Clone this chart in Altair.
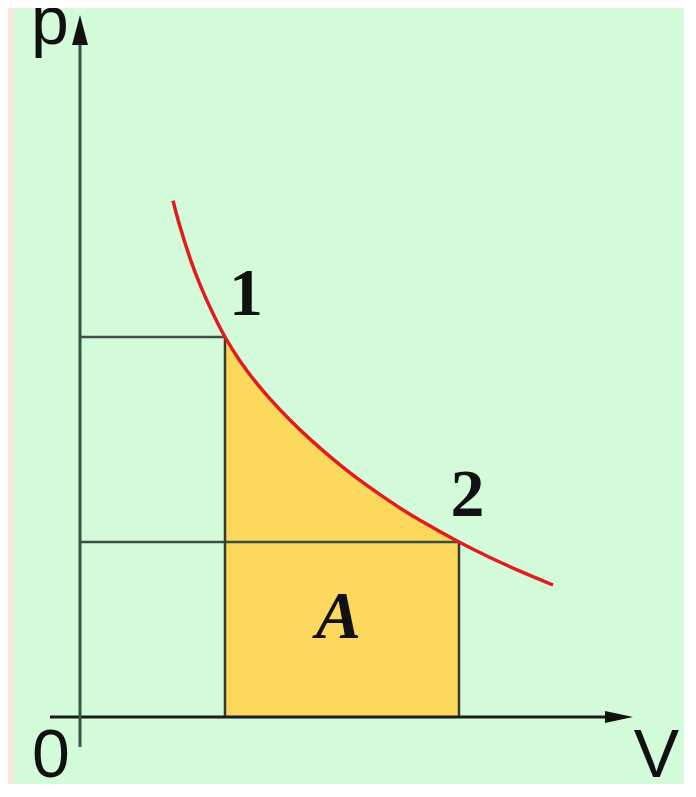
import altair as alt
import pandas as pd

# ---- data (V, p in arbitrary units) ----
curve_V = [0.93, 1.00, 1.10, 1.20, 1.32, 1.45, 1.60, 1.75, 1.90, 2.10, 2.30, 2.50, 2.75, 3.10, 3.40, 3.79, 4.10, 4.40, 4.73]
curve_p = [5.163, 4.904, 4.589, 4.324, 4.054, 3.800, 3.561, 3.358, 3.181, 2.970, 2.779, 2.604, 2.404, 2.156, 1.967, 1.750, 1.595, 1.459, 1.320]

state_names = ["1", "2"]
state_V = [1.45, 3.79]
state_p = [3.80, 1.75]

axis_V_ext = [-0.30, 5.25]
axis_p_ext = [-0.30, 6.72]

labels = ["p", "0", "V"]
label_V = [-0.30, -0.29, 5.765]
label_p = [6.73, -0.60, -0.60]

num_labels = ["1", "2"]
num_V = [1.66, 3.875]
num_p = [4.02, 2.01]

area_label = ["A"]
area_label_V = [2.585]
area_label_p = [0.79]

# ---- tables ----
curve = pd.DataFrame({"V": curve_V, "p": curve_p})
area = curve[(curve.V >= state_V[0]) & (curve.V <= state_V[1])].copy()
area["p0"] = 0.0

xs = alt.Scale(domain=[-0.67, 6.04], nice=False, zero=False)
ys = alt.Scale(domain=[-0.67, 7.09], nice=False, zero=False)
X = lambda f: alt.X(f, type="quantitative", scale=xs, axis=None)
Y = lambda f: alt.Y(f, type="quantitative", scale=ys, axis=None)

fill = alt.Chart(area).mark_area(color="#fcd95c", interpolate="natural", opacity=1).encode(
    x=X("V"), y=Y("p"), y2="p0"
)

hlines = pd.DataFrame({"V0": [0.0, 0.0], "V1": state_V, "p": state_p})
guide_h = alt.Chart(hlines).mark_rule(color="#3d4e45", strokeWidth=2.5).encode(
    x=X("V0"), x2="V1", y=Y("p")
)

vlines = pd.DataFrame({"V": state_V, "p0": [0.0, 0.0], "p1": state_p})
guide_v = alt.Chart(vlines).mark_rule(color="#3a3a2a", strokeWidth=2.5).encode(
    x=X("V"), y=Y("p0"), y2="p1"
)

xaxis = alt.Chart(pd.DataFrame({"a": [axis_V_ext[0]], "b": [axis_V_ext[1]], "p": [0.0]})).mark_rule(
    color="#1c1c1c", strokeWidth=3
).encode(x=X("a"), x2="b", y=Y("p"))

yaxis = alt.Chart(pd.DataFrame({"a": [axis_p_ext[0]], "b": [axis_p_ext[1]], "V": [0.0]})).mark_rule(
    color="#2f5646", strokeWidth=3
).encode(y=Y("a"), y2="b", x=X("V"))

line = alt.Chart(curve).mark_line(color="#e21c1c", strokeWidth=3.5, interpolate="natural").encode(
    x=X("V"), y=Y("p")
)

yarrow = alt.Chart(pd.DataFrame({"V": [0.0], "p": [6.87]})).mark_point(
    shape="M0,-1L0.53,1L-0.53,1Z", filled=True, size=900, color="#111111", opacity=1
).encode(x=X("V"), y=Y("p"))

xarrow = alt.Chart(pd.DataFrame({"V": [5.39], "p": [0.0]})).mark_point(
    shape="M1,0L-1,0.43L-1,-0.43Z", filled=True, size=784, color="#111111", opacity=1
).encode(x=X("V"), y=Y("p"))

axis_text = alt.Chart(pd.DataFrame({"t": labels, "V": label_V, "p": label_p})).mark_text(
    font="Liberation Sans", fontSize=68, color="#111111", align="center", baseline="alphabetic"
).encode(x=X("V"), y=Y("p"), text="t")

num_text = alt.Chart(pd.DataFrame({"t": num_labels, "V": num_V, "p": num_p})).mark_text(
    font="Liberation Serif", fontSize=68, fontWeight="bold", color="#111111",
    align="center", baseline="alphabetic"
).encode(x=X("V"), y=Y("p"), text="t")

a_text = alt.Chart(pd.DataFrame({"t": area_label, "V": area_label_V, "p": area_label_p})).mark_text(
    font="Liberation Serif", fontSize=68, fontWeight="bold", fontStyle="italic", color="#111111",
    align="center", baseline="alphabetic"
).encode(x=X("V"), y=Y("p"), text="t")

chart = alt.layer(
    fill, guide_h, guide_v, xaxis, yaxis, line, yarrow, xarrow, axis_text, num_text, a_text
).properties(
    width=671, height=776,
    autosize=alt.AutoSizeParams(type="none"),
    padding={"left": 5, "top": 0, "right": 0, "bottom": 0},
    background="#fde6d9",
).configure_view(fill="#d3fbd9", stroke="transparent")

chart.save("out.html", embed_options={"renderer": "svg", "actions": False})
